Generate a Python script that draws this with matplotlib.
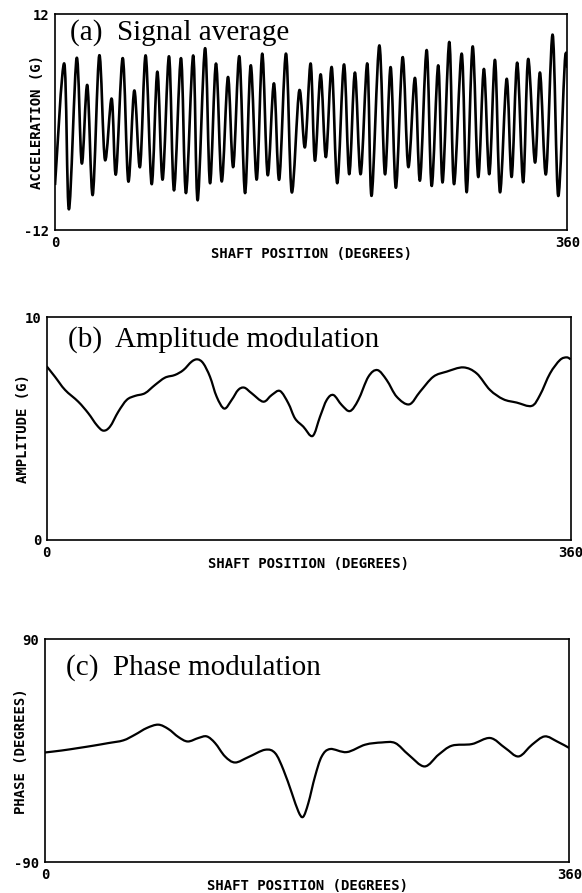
import matplotlib
matplotlib.use('Agg')
import matplotlib.pyplot as plt
from matplotlib.path import Path
from matplotlib.patches import PathPatch

# (a) signal average: extrema (degrees, g)
a_deg = [0, 6.5, 9.8, 15.2, 18.8, 22.7, 26.5, 31.1, 35.1, 39.8,
         42.8, 47.6, 51.5, 55.7, 59.7, 63.7, 67.9, 71.9, 75.6, 80.1,
         83.6, 88.5, 92.0, 97.1, 100.2, 105.4, 108.9, 113.1, 117.1, 121.5,
         125.2, 129.5, 133.5, 137.5, 141.7, 145.6, 149.4, 153.8, 157.5, 162.3,
         166.3, 171.6, 175.6, 179.6, 182.6, 186.6, 190.3, 194.4, 198.3, 203.0,
         206.7, 210.7, 214.7, 219.4, 222.4, 227.8, 231.8, 235.8, 239.5, 244.2,
         248.2, 252.9, 256.4, 261.1, 264.6, 269.2, 272.3, 277.0, 280.3, 285.7,
         289.2, 293.4, 297.3, 301.3, 305.1, 309.1, 312.6, 317.3, 320.8, 324.7,
         328.9, 332.4, 337.2, 340.7, 344.9, 349.6, 353.5, 358.2, 360]
a_val = [-7.0, 6.5, -9.7, 7.1, -4.6, 4.1, -8.1, 7.4, -4.2, 2.6,
         -5.8, 7.1, -6.6, 3.5, -5.0, 7.4, -6.9, 5.6, -6.4, 7.3,
         -7.6, 7.1, -7.9, 7.4, -8.7, 8.2, -6.8, 6.5, -6.6, 5.0,
         -5.0, 7.3, -7.9, 6.3, -6.4, 7.6, -5.9, 4.3, -6.4, 7.6,
         -7.8, 3.5, -2.8, 6.5, -4.3, 5.3, -3.9, 6.1, -6.8, 6.4,
         -5.8, 5.5, -5.8, 6.5, -8.2, 8.5, -5.8, 6.1, -7.3, 7.2,
         -5.0, 4.9, -6.5, 8.0, -7.1, 6.3, -6.7, 8.9, -6.9, 7.6,
         -7.8, 8.4, -6.1, 5.9, -5.8, 6.9, -7.8, 4.8, -6.1, 6.6,
         -6.7, 7.0, -4.5, 5.5, -5.8, 9.7, -8.2, 6.8, 6.0]

# (b) amplitude modulation (degrees, g)
b_deg = [0, 5.7, 12.6, 21.7, 28.6, 34.4, 38.9, 43.5, 49.2, 55.0,
         60.7, 67.5, 74.4, 81.3, 88.1, 93.9, 99.6, 103.7, 107.6, 112.2,
         116.8, 122.0, 127.1, 131.6, 135.8, 140.8, 148.8, 154.6, 160.3, 166.0,
         170.6, 176.3, 182.7, 187.8, 192.4, 197.0, 202.7, 208.4, 214.1, 221.0,
         227.2, 233.6, 240.5, 249.1, 256.5, 265.6, 274.8, 286.2, 295.4, 304.5,
         313.7, 322.9, 333.2, 338.9, 345.8, 352.6, 357.2, 360]
b_val = [7.8, 7.33, 6.74, 6.21, 5.69, 5.16, 4.91, 5.09, 5.76, 6.29,
         6.47, 6.59, 6.96, 7.29, 7.41, 7.63, 8.01, 8.11, 7.93, 7.33,
         6.43, 5.90, 6.29, 6.74, 6.84, 6.59, 6.21, 6.51, 6.69, 6.14,
         5.46, 5.09, 4.67, 5.54, 6.29, 6.51, 6.06, 5.79, 6.29, 7.33,
         7.63, 7.18, 6.43, 6.09, 6.66, 7.33, 7.56, 7.75, 7.48, 6.74,
         6.32, 6.17, 6.02, 6.51, 7.48, 8.08, 8.20, 8.11]

# (c) phase modulation (degrees, degrees)
c_deg = [0, 11.5, 22.9, 33.2, 43.5, 53.8, 61.8, 69.9, 77.8, 84.7,
         91.6, 98.0, 105.3, 111.1, 116.8, 123.6, 130.5, 139.7, 151.1, 158.0,
         163.7, 169.5, 174.0, 177.2, 180.8, 185.4, 190.0, 195.8, 207.2, 219.8,
         231.3, 240.5, 249.6, 260.6, 270.2, 279.4, 293.1, 305.7, 316.0, 325.2,
         334.4, 343.1, 351.6, 360]
c_val = [-1.4, 0.2, 2.2, 4.1, 6.2, 8.4, 13.0, 18.4, 21.1, 17.6,
         11.1, 7.5, 10.3, 11.6, 6.2, -4.6, -9.5, -5.1, 0.8, -1.9,
         -15.4, -34.3, -49.2, -53.5, -42.4, -20.8, -4.6, 1.4, -1.1, 4.9,
         6.7, 6.2, -3.2, -12.7, -3.2, 4.1, 5.4, 10.3, 2.2, -4.6,
         4.9, 11.6, 7.5, 2.2]

x_label = 'SHAFT POSITION (DEGREES)'
mono = dict(family='DejaVu Sans Mono', weight='bold', size=10)


def smooth_path(x, y):
    # catmull-rom through the read points, drawn as cubic bezier segments
    n = len(x)
    verts = [(x[0], y[0])]
    codes = [Path.MOVETO]
    for i in range(n - 1):
        i0 = max(i - 1, 0)
        i3 = min(i + 2, n - 1)
        c1 = (x[i] + (x[i + 1] - x[i0]) / 6, y[i] + (y[i + 1] - y[i0]) / 6)
        c2 = (x[i + 1] - (x[i3] - x[i]) / 6, y[i + 1] - (y[i3] - y[i]) / 6)
        verts += [c1, c2, (x[i + 1], y[i + 1])]
        codes += [Path.CURVE4] * 3
    return Path(verts, codes)


def panel(rect, x, y, ylim, yticklabels, ylabel, title, title_pos, lw, ylab_x):
    ax = fig.add_axes(rect)
    ax.add_patch(PathPatch(smooth_path(x, y), facecolor='none',
                           edgecolor='black', linewidth=lw, joinstyle='round'))
    ax.set_xlim(0, 360)
    ax.set_ylim(*ylim)
    for s in ax.spines.values():
        s.set_linewidth(1.2)
    ax.set_xticks([0, 360])
    ax.set_xticklabels(['0', '360'], fontdict=mono)
    ax.set_yticks(list(ylim))
    ax.set_yticklabels(yticklabels, fontdict=mono)
    ax.tick_params(axis='x', length=0, pad=4)
    ax.tick_params(axis='y', length=0, pad=4)
    ax.set_xlabel(x_label, fontdict=mono, labelpad=-2)
    ax.set_ylabel(ylabel, fontdict=mono, va='center')
    ax.yaxis.set_label_coords(ylab_x, 0.5)
    ax.text(title_pos[0], title_pos[1], title, transform=ax.transAxes,
            family='Liberation Serif', fontsize=21, va='baseline', ha='left')
    return ax


fig = plt.figure(figsize=(5.82, 8.93), dpi=100)

panel([0.0945, 0.7424, 0.8805, 0.2419], a_deg, a_val, (-12, 12), ['-12', '12'],
      'ACCELERATION (G)', '(a)  Signal average', (0.029, 0.880), 1.9, -0.036)
panel([0.0802, 0.3953, 0.9004, 0.2494], b_deg, b_val, (0, 10), ['0', '10'],
      'AMPLITUDE (G)', '(b)  Amplitude modulation', (0.040, 0.868), 1.6, -0.045)
panel([0.0773, 0.0347, 0.9009, 0.2492], c_deg, c_val, (-90, 90), ['-90', '90'],
      'PHASE (DEGREES)', '(c)  Phase modulation', (0.041, 0.840), 1.6, -0.045)

fig.savefig('out.png', dpi=100)
